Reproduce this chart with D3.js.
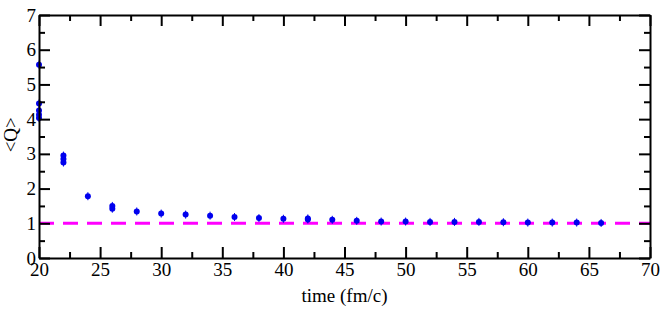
<!DOCTYPE html>
<html>
<head>
<meta charset="utf-8">
<script src="https://cdn.jsdelivr.net/npm/d3@7"></script>
<style>
  body { margin: 0; background: #fff; }
  svg { display: block; }
</style>
</head>
<body>
<div id="chart"></div>
<script>
// time points and <Q> values
var times = [20, 20, 20, 20, 20, 22, 22, 22, 24, 26, 26, 28, 30, 32, 34, 36, 38, 40, 42, 42,
             44, 46, 48, 50, 52, 54, 56, 58, 60, 62, 64, 66];
var qValues = [5.57, 4.45, 4.25, 4.13, 4.03, 2.95, 2.85, 2.75, 1.78, 1.5, 1.42, 1.34, 1.28, 1.25, 1.22, 1.18, 1.15, 1.13, 1.14, 1.11,
               1.1, 1.07, 1.05, 1.05, 1.04, 1.04, 1.04, 1.03, 1.02, 1.02, 1.02, 1.01];
var xTicks = [20, 25, 30, 35, 40, 45, 50, 55, 60, 65, 70];
var yTicks = [0, 1, 2, 3, 4, 5, 6, 7];
var refLevel = 1;

(function(){

var width = 664, height = 310;
var margin = {left: 39, right: 14, top: 15, bottom: 52};

var svg = d3.select('#chart').append('svg')
    .attr('width', width)
    .attr('height', height);

var x = d3.scaleLinear().domain([20, 70]).range([margin.left, width - margin.right]);
var y = d3.scaleLinear().domain([0, 7]).range([height - margin.bottom, margin.top]);

var font = '"Liberation Serif", "Times New Roman", serif';

var points = times.map(function(t, i){ return {t: t, q: qValues[i]}; });

// dashed reference line
svg.append('line')
    .attr('x1', x(20)).attr('x2', x(70))
    .attr('y1', y(refLevel)).attr('y2', y(refLevel))
    .attr('stroke', '#ff00ff')
    .attr('stroke-width', 3)
    .attr('stroke-dasharray', '15,9');

// data points
var g = svg.append('g');
g.selectAll('line.err')
    .data(points)
    .enter()
    .append('line')
    .attr('class', 'err')
    .attr('x1', function(d){ return x(d.t); })
    .attr('x2', function(d){ return x(d.t); })
    .attr('y1', function(d){ return y(d.q) - 4; })
    .attr('y2', function(d){ return y(d.q) + 4; })
    .attr('stroke', '#0000ee')
    .attr('stroke-width', 1);
g.selectAll('circle')
    .data(points)
    .enter()
    .append('circle')
    .attr('cx', function(d){ return x(d.t); })
    .attr('cy', function(d){ return y(d.q); })
    .attr('r', 3)
    .attr('fill', '#0000ee');

// axes, grace style: ticks inside on all four sides
var minorX = d3.range(22.5, 70, 5);
var minorY = d3.range(0.5, 7, 1);
var major = 11, minor = 6;

var axBottom = d3.axisBottom(x).tickValues(xTicks).tickSize(-major).tickSizeOuter(0).tickFormat(d3.format('d'));
var axTop = d3.axisTop(x).tickValues(xTicks).tickSize(-major).tickSizeOuter(0).tickFormat('');
var axLeft = d3.axisLeft(y).tickValues(yTicks).tickSize(-major).tickSizeOuter(0).tickFormat(d3.format('d'));
var axRight = d3.axisRight(y).tickValues(yTicks).tickSize(-major).tickSizeOuter(0).tickFormat('');

var axes = [
    {name: 'bottom', axis: axBottom, minorAxis: d3.axisBottom(x).tickValues(minorX), tr: 'translate(0,' + y(0) + ')'},
    {name: 'top', axis: axTop, minorAxis: d3.axisTop(x).tickValues(minorX), tr: 'translate(0,' + y(7) + ')'},
    {name: 'left', axis: axLeft, minorAxis: d3.axisLeft(y).tickValues(minorY), tr: 'translate(' + x(20) + ',0)'},
    {name: 'right', axis: axRight, minorAxis: d3.axisRight(y).tickValues(minorY), tr: 'translate(' + x(70) + ',0)'}
];

axes.forEach(function(a){
    svg.append('g')
        .attr('transform', a.tr)
        .call(a.minorAxis.tickSize(-minor).tickSizeOuter(0).tickFormat(''))
        .call(function(s){ s.select('.domain').remove(); });
    svg.append('g')
        .attr('class', 'ax ax-' + a.name)
        .attr('transform', a.tr)
        .call(a.axis);
});

svg.selectAll('.tick line').attr('stroke', '#000').attr('stroke-width', 2);
svg.selectAll('.domain').attr('stroke', '#000').attr('stroke-width', 2);
svg.selectAll('.tick text')
    .attr('font-family', font)
    .attr('font-size', 19)
    .attr('fill', '#000');

// tick label positions
svg.select('.ax-bottom').selectAll('.tick text').attr('y', 5);
svg.select('.ax-left').selectAll('.tick text').attr('x', -3);

// axis titles
svg.append('text')
    .attr('x', x(45))
    .attr('y', 302)
    .attr('text-anchor', 'middle')
    .attr('font-family', font)
    .attr('font-size', 19)
    .text('time (fm/c)');

svg.append('text')
    .attr('transform', 'translate(17,' + y(3.55) + ') rotate(-90)')
    .attr('text-anchor', 'middle')
    .attr('font-family', font)
    .attr('font-size', 19)
    .text('<Q>');

})();
</script>
</body>
</html>
